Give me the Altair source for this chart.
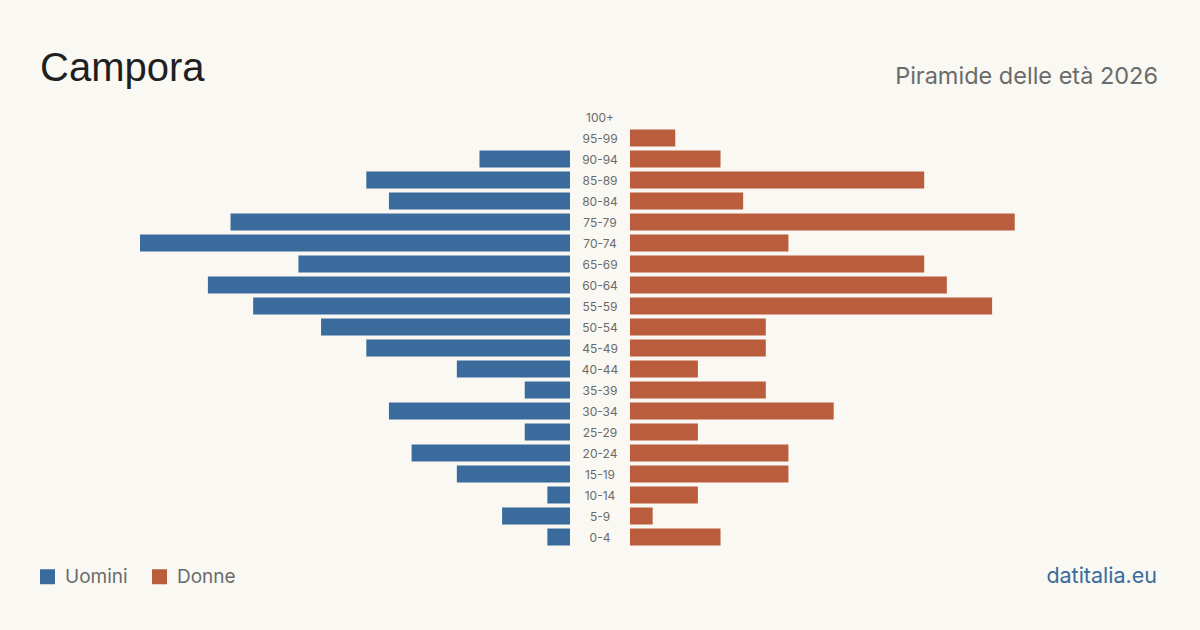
import altair as alt
import pandas as pd

# Age classes, top of the pyramid first
ages = ["100+", "95-99", "90-94", "85-89", "80-84", "75-79", "70-74", "65-69",
        "60-64", "55-59", "50-54", "45-49", "40-44", "35-39", "30-34", "25-29",
        "20-24", "15-19", "10-14", "5-9", "0-4"]
men = [0, 0, 4, 9, 8, 15, 19, 12, 16, 14, 11, 9, 5, 2, 8, 2, 7, 5, 1, 3, 1]
women = [0, 2, 4, 13, 5, 17, 7, 13, 14, 16, 6, 6, 3, 6, 9, 3, 7, 7, 3, 1, 4]

BLUE = "#3a6b9d"
ORANGE = "#b95d3c"
BG = "#f9f8f3"
GREY = "#6b6b6b"
TITLE_FONT = "Liberation Sans"
FONT = "Inter"

df = pd.DataFrame({"age": ages, "men": men, "women": women})

y_enc = alt.Y("age:N", sort=ages, axis=None,
              scale=alt.Scale(domain=ages, range=[106.5, 547.5],
                              paddingInner=4 / 21, paddingOuter=2 / 21))

color_scale = alt.Scale(domain=["Uomini", "Donne"], range=[BLUE, ORANGE])
legend = alt.Legend(
    title=None, orient="none", legendX=38, legendY=567, direction="horizontal",
    symbolType="square", symbolSize=225, symbolStrokeWidth=0, symbolOpacity=1,
    labelFont=FONT, labelFontSize=19, labelColor=GREY, labelOffset=8,
    labelBaseline="middle", columnPadding=22)

left = alt.Chart(df).transform_calculate(sex="'Uomini'").mark_bar(opacity=1).encode(
    x=alt.X("men:Q", axis=None, scale=alt.Scale(domain=[0, 19], range=[570, 140])),
    y=y_enc,
    color=alt.Color("sex:N", scale=color_scale, legend=legend),
)

right = alt.Chart(df).transform_calculate(sex="'Donne'").mark_bar(opacity=1).encode(
    x=alt.X("women:Q", axis=None, scale=alt.Scale(domain=[0, 19], range=[630, 1060])),
    y=y_enc,
    color=alt.Color("sex:N", scale=color_scale, legend=legend),
)

labels = alt.Chart(df).mark_text(font=FONT, fontSize=12, color=GREY,
                                 align="center", baseline="middle", dy=0.5).encode(
    x=alt.value(600),
    y=y_enc,
    text="age:N",
)

one = pd.DataFrame({"k": [0]})

title = alt.Chart(one).mark_text(text="Campora", font=TITLE_FONT, fontSize=40,
                                 color="#1f1f1f", align="left",
                                 baseline="alphabetic").encode(
    x=alt.value(40), y=alt.value(81))

subtitle = alt.Chart(one).mark_text(text="Piramide delle età 2026", font=FONT,
                                    fontSize=23.5, color=GREY, align="right",
                                    baseline="alphabetic").encode(
    x=alt.value(1158), y=alt.value(84))

source = alt.Chart(one).mark_text(text="datitalia.eu", font=FONT, fontSize=21.5,
                                  color=BLUE, align="right",
                                  baseline="alphabetic").encode(
    x=alt.value(1157), y=alt.value(583))

chart = alt.layer(left, right, labels, title, subtitle, source).resolve_scale(
    x="independent"
).properties(
    width=1200, height=630, autosize="none", padding=0, background=BG
).configure_view(stroke=None)

chart.save("out.html", embed_options={"renderer": "svg", "actions": False})
